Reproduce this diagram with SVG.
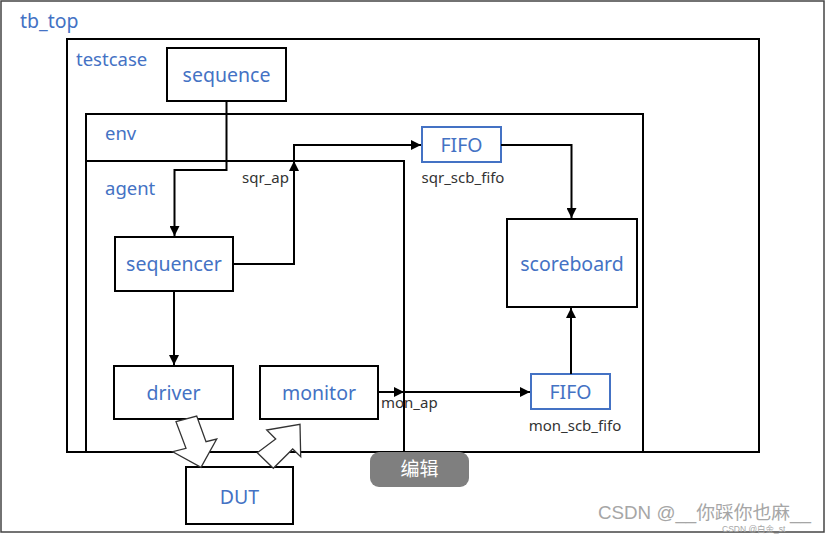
<svg xmlns="http://www.w3.org/2000/svg" width="826" height="534" viewBox="0 0 826 534">
<style>
.box{fill:none;stroke:#000;stroke-width:2}
.node{fill:#fff;stroke:#000;stroke-width:2}
.fifo{fill:#fff;stroke:#4472C4;stroke-width:2}
.t{font-family:"Noto Sans","Open Sans",sans-serif;fill:#4472C4;font-size:19.5px}
.lbl{font-family:"Noto Sans","Open Sans",sans-serif;fill:#333;font-size:15px}
.w{fill:none;stroke:#000;stroke-width:2}
.blk{fill:#fff;stroke:#333;stroke-width:1.3;stroke-linejoin:miter}
.wm{font-family:"Liberation Sans","Noto Sans CJK SC",sans-serif;fill:#a6a6a6}
</style>
<defs>
<marker id="ah" viewBox="0 0 10 10" refX="10" refY="5" markerWidth="5" markerHeight="5" orient="auto" markerUnits="strokeWidth">
<path d="M0,0 L10,5 L0,10 z" fill="#000"/>
</marker>
</defs>
<rect width="826" height="534" fill="#fff"/>
<g id="tb_top">
<rect x="1" y="1" width="823" height="531" fill="none" stroke="#444" stroke-width="1.5"/>
<text class="t" x="20" y="28">tb_top</text>
</g>
<g id="testcase">
<rect class="box" x="67" y="39" width="692" height="413"/>
<text class="t" x="76" y="66" style="font-size:18.5px">testcase</text>
</g>
<g id="env">
<rect class="box" x="86" y="114" width="557" height="338"/>
<text class="t" x="105" y="140" style="font-size:18.5px">env</text>
</g>
<g id="agent">
<path class="box" d="M86,161 H404 V452"/>
<text class="t" x="105" y="195" style="font-size:18.5px">agent</text>
</g>
<g id="sequence">
<rect class="node" x="167" y="48" width="119" height="53"/>
<text class="t" x="226.5" y="82" text-anchor="middle">sequence</text>
</g>
<g id="sequencer">
<rect class="node" x="115" y="237" width="118" height="54"/>
<text class="t" x="174" y="271" text-anchor="middle">sequencer</text>
</g>
<g id="driver">
<rect class="node" x="114" y="366" width="119" height="53"/>
<text class="t" x="173.5" y="400" text-anchor="middle">driver</text>
</g>
<g id="monitor">
<rect class="node" x="260" y="366" width="118" height="53"/>
<text class="t" x="319" y="400" text-anchor="middle">monitor</text>
</g>
<g id="sqr_scb_fifo">
<rect class="fifo" x="422" y="127" width="79" height="35"/>
<text class="t" x="461.5" y="151.5" text-anchor="middle">FIFO</text>
<text class="lbl" x="463" y="183" text-anchor="middle">sqr_scb_fifo</text>
</g>
<g id="mon_scb_fifo">
<rect class="fifo" x="531" y="374" width="79" height="35"/>
<text class="t" x="570.5" y="398.5" text-anchor="middle">FIFO</text>
<text class="lbl" x="575" y="431" text-anchor="middle">mon_scb_fifo</text>
</g>
<g id="scoreboard">
<rect class="node" x="507" y="219" width="130" height="88"/>
<text class="t" x="572" y="271" text-anchor="middle">scoreboard</text>
</g>
<g id="DUT">
<rect class="node" x="186" y="467" width="107" height="57"/>
<text class="t" x="239.5" y="504" text-anchor="middle">DUT</text>
</g>
<g id="connectors">
<path class="w" d="M226.5,101 V170 H174.5 V236" marker-end="url(#ah)"/>
<path class="w" d="M233,264 H294 V161" marker-end="url(#ah)"/>
<path class="w" d="M294,161 V145 H421" marker-end="url(#ah)"/>
<path class="w" d="M501,145 H571.5 V218" marker-end="url(#ah)"/>
<path class="w" d="M571,374 V308" marker-end="url(#ah)"/>
<path class="w" d="M174,291 V365" marker-end="url(#ah)"/>
<path class="w" d="M378,392 H404" marker-end="url(#ah)"/>
<path class="w" d="M404,392 H530" marker-end="url(#ah)"/>
<text class="lbl" x="381" y="408">mon_ap</text>
<text class="lbl" x="242" y="183">sqr_ap</text>
<polygon class="blk" points="176,421.7 196.7,416 206,441.7 216.7,439 201,467.3 172.7,451.7 186,448.3"/>
<polygon class="blk" points="273.3,468.3 257.3,452.7 275.7,439 266.7,430 300,424.3 300.7,456.7 292.7,449"/>
</g>
<g id="overlay">
<rect x="370" y="452" width="99" height="35" rx="9" fill="#7f7f7f"/>
<text x="419.5" y="476" text-anchor="middle" font-family="'Noto Sans CJK SC',sans-serif" font-size="19" fill="#fff">编辑</text>
<text class="wm" x="598" y="519" font-size="18" textLength="213" lengthAdjust="spacingAndGlyphs">CSDN @__你踩你也麻__</text>
<text class="wm" x="722" y="531.5" font-size="8.5">CSDN @白金_st</text>
</g>
</svg>
